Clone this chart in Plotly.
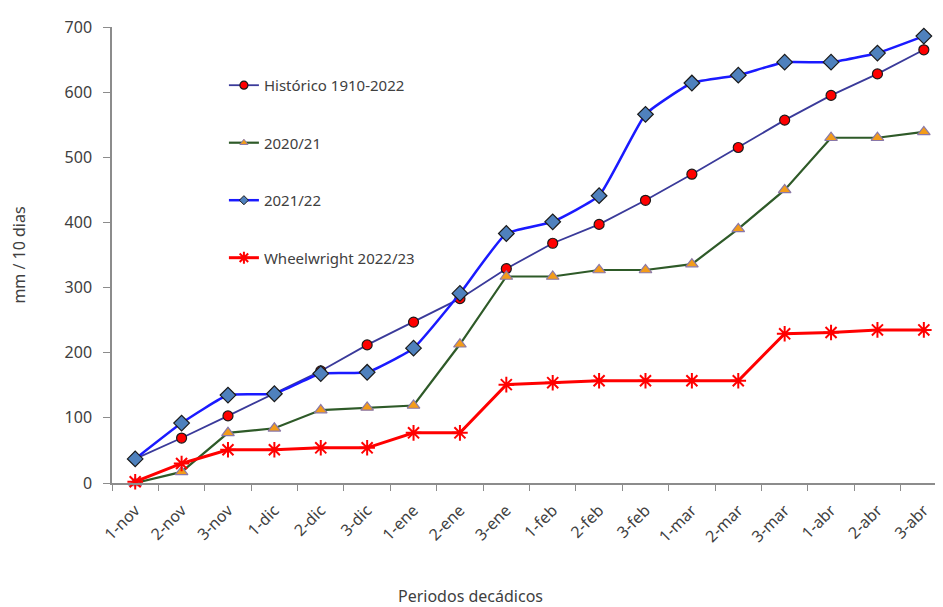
import plotly.graph_objects as go

categories = ["1-nov", "2-nov", "3-nov", "1-dic", "2-dic", "3-dic", "1-ene", "2-ene", "3-ene",
              "1-feb", "2-feb", "3-feb", "1-mar", "2-mar", "3-mar", "1-abr", "2-abr", "3-abr"]
historico = [37, 69, 103, 137, 172, 212, 247, 283, 329, 368, 397, 434, 474, 515, 557, 595, 628, 665]
s2020_21 = [0, 17, 77, 84, 112, 116, 119, 213, 317, 317, 327, 327, 336, 390, 450, 530, 530, 539]
s2021_22 = [37, 92, 135, 137, 168, 170, 207, 291, 383, 401, 441, 566, 614, 626, 646, 646, 660, 686]
wheelwright = [2, 30, 51, 51, 54, 54, 77, 77, 151, 154, 157, 157, 157, 157, 229, 231, 235, 235]

names = ["Histórico 1910-2022", "2020/21", "2021/22", "Wheelwright 2022/23"]

styles = [
    dict(line=dict(color="#3a3a9a", width=1.8),
         marker=dict(symbol="circle", size=10, color="#ff0000", line=dict(color="#1a1a1a", width=1.2)),
         legend_marker=dict(symbol="circle", size=8, color="#ff0000", line=dict(color="#1a1a1a", width=1.2))),
    dict(line=dict(color="#2e5a28", width=2.2),
         marker=dict(symbol="triangle-up", size=11, color="#f39c1a", line=dict(color="#8a78a8", width=1.2)),
         legend_marker=dict(symbol="triangle-up", size=7, color="#f39c1a", line=dict(color="#8a78a8", width=1))),
    dict(line=dict(color="#1a1aff", width=2.5, shape="spline", smoothing=0.4),
         marker=dict(symbol="diamond", size=12, color="#4f81bd", line=dict(color="#1a1a1a", width=1.2)),
         legend_marker=dict(symbol="diamond", size=7, color="#4f81bd", line=dict(color="#1a1a1a", width=1))),
    dict(line=dict(color="#ff0000", width=3),
         marker=dict(symbol="asterisk-open", size=13, color="#ff0000", line=dict(color="#ff0000", width=2)),
         legend_marker=dict(symbol="asterisk-open", size=10, color="#ff0000", line=dict(color="#ff0000", width=2))),
]
series = [historico, s2020_21, s2021_22, wheelwright]

fig = go.Figure()
for name, vals, st in zip(names, series, styles):
    fig.add_trace(go.Scatter(
        x=categories, y=vals, name=name, mode="lines+markers", showlegend=False,
        line=st["line"], marker=st["marker"], cliponaxis=False))

# legend-only entries with smaller markers
for i, (name, st) in enumerate(zip(names, styles)):
    ln = dict(st["line"])
    ln.pop("shape", None)
    ln.pop("smoothing", None)
    fig.add_trace(go.Scatter(
        x=[None], y=[None], name=name, mode="lines+markers", legendgroup="g%d" % i,
        line=ln, marker=st["legend_marker"], showlegend=True, hoverinfo="skip"))

fig.update_layout(
    width=935, height=599,
    margin=dict(l=104, r=2, t=19, b=124),
    paper_bgcolor="white", plot_bgcolor="white",
    font=dict(family="Noto Sans, Open Sans, sans-serif", size=15, color="#404040"),
    showlegend=True,
    legend=dict(x=0.135, y=0.908, xanchor="left", yanchor="top",
                bgcolor="rgba(0,0,0,0)", tracegroupgap=35,
                font=dict(size=15, color="#404040")),
    xaxis=dict(
        type="category", range=[-0.5, 17.37],
        showline=True, linecolor="#8c8c8c", linewidth=1.5,
        ticks="outside", ticklen=6, tickcolor="#8c8c8c", tickson="boundaries",
        tickangle=-45, showgrid=False, zeroline=False, ticklabelstandoff=10,
        tickfont=dict(size=16, color="#404040"),
        automargin=False),
    yaxis=dict(
        range=[0, 700], dtick=100,
        showline=True, linecolor="#8c8c8c", linewidth=1.5,
        ticks="outside", ticklen=7, tickcolor="#8c8c8c",
        showgrid=False, zeroline=False, ticklabelstandoff=8,
        tickfont=dict(size=16, color="#404040"),
        automargin=False,
        title=dict(text="mm / 10 dias", standoff=40, font=dict(size=16, color="#404040"))),
    annotations=[dict(text="Periodos decádicos", xref="paper", yref="paper",
                      x=0.433, y=-0.248, xanchor="center", yanchor="middle",
                      showarrow=False, font=dict(size=16, color="#404040"))],
)

fig.write_html("out.html")
